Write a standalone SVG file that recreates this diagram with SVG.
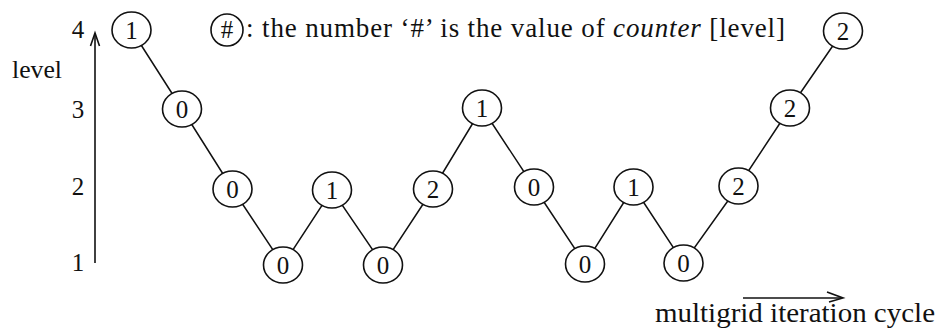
<svg xmlns="http://www.w3.org/2000/svg" width="940" height="329" viewBox="0 0 940 329">
<style>
  .bg { fill: #ffffff; }
  .node ellipse { fill: #ffffff; stroke: #111111; stroke-width: 1.6; }
  .node text { font-family: "Liberation Serif", "Times New Roman", serif; font-size: 25px; fill: #111111; text-anchor: middle; }
  .edge { stroke: #111111; stroke-width: 1.5; fill: none; }
  .axis { stroke: #111111; stroke-width: 1.6; fill: none; }
  .lbl { font-family: "Liberation Serif", "Times New Roman", serif; font-size: 26px; fill: #111111; }
  .num { font-family: "Liberation Serif", "Times New Roman", serif; font-size: 25px; fill: #111111; text-anchor: middle; }
</style>
<rect class="bg" x="0" y="0" width="940" height="329"/>

<g id="axes">
  <line class="axis" x1="95" y1="263" x2="95" y2="34"/>
  <path class="axis" d="M90.5,46 L95,33 L99.5,46"/>
  <text class="num" x="78" y="38">4</text>
  <text class="num" x="78" y="118">3</text>
  <text class="num" x="78" y="195">2</text>
  <text class="num" x="78" y="271">1</text>
  <text class="lbl" x="12" y="78" textLength="50" lengthAdjust="spacingAndGlyphs">level</text>
  <line class="axis" x1="743" y1="298" x2="842" y2="298"/>
  <path class="axis" d="M827,292 L843,298 L829,302"/>
  <text class="lbl" x="655" y="322" style="font-size:28px" textLength="280" lengthAdjust="spacingAndGlyphs">multigrid iteration cycle</text>
</g>

<g id="legend">
  <g class="node" id="legend-node">
    <ellipse cx="227" cy="30" rx="16" ry="16"/>
    <text x="227" y="38">#</text>
  </g>
  <text class="lbl" x="246" y="37" style="font-size:27px" textLength="539" lengthAdjust="spacing">: the number ‘#’ is the value of <tspan font-style="italic">counter</tspan> [level]</text>
</g>

<g id="connectors">
  <polyline class="edge" points="131.5,30 182,109 232.5,189 283,265 332,190 383,265 433,189 482,108 534,187 585,264 633.5,187 683.5,263 738.5,186 790,108 843,31"/>
</g>

<g id="n1" class="node"><ellipse cx="131.5" cy="30" rx="19.5" ry="18"/><text x="131.5" y="38.5">1</text></g>
<g id="n2" class="node"><ellipse cx="182" cy="109" rx="19.5" ry="18"/><text x="182" y="117.5">0</text></g>
<g id="n3" class="node"><ellipse cx="232.5" cy="189" rx="19.5" ry="18"/><text x="232.5" y="197.5">0</text></g>
<g id="n4" class="node"><ellipse cx="283" cy="265" rx="19.5" ry="18"/><text x="283" y="273.5">0</text></g>
<g id="n5" class="node"><ellipse cx="332" cy="190" rx="19.5" ry="18"/><text x="332" y="198.5">1</text></g>
<g id="n6" class="node"><ellipse cx="383" cy="265" rx="19.5" ry="18"/><text x="383" y="273.5">0</text></g>
<g id="n7" class="node"><ellipse cx="433" cy="189" rx="19.5" ry="18"/><text x="433" y="197.5">2</text></g>
<g id="n8" class="node"><ellipse cx="482" cy="108" rx="19.5" ry="18"/><text x="482" y="116.5">1</text></g>
<g id="n9" class="node"><ellipse cx="534" cy="187" rx="19.5" ry="18"/><text x="534" y="195.5">0</text></g>
<g id="n10" class="node"><ellipse cx="585" cy="264" rx="19.5" ry="18"/><text x="585" y="272.5">0</text></g>
<g id="n11" class="node"><ellipse cx="633.5" cy="187" rx="19.5" ry="18"/><text x="633.5" y="195.5">1</text></g>
<g id="n12" class="node"><ellipse cx="683.5" cy="263" rx="19.5" ry="18"/><text x="683.5" y="271.5">0</text></g>
<g id="n13" class="node"><ellipse cx="738.5" cy="186" rx="19.5" ry="18"/><text x="738.5" y="194.5">2</text></g>
<g id="n14" class="node"><ellipse cx="790" cy="108" rx="19.5" ry="18"/><text x="790" y="116.5">2</text></g>
<g id="n15" class="node"><ellipse cx="843" cy="31" rx="19.5" ry="18"/><text x="843" y="39.5">2</text></g>
</svg>
